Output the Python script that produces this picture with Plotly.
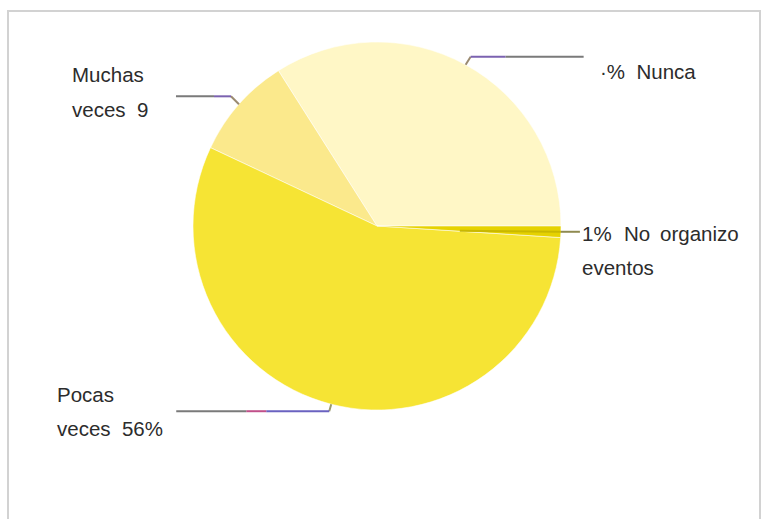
import math
import plotly.graph_objects as go

# ---- data ----
labels = ["Nunca", "Muchas veces", "Pocas veces", "No organizo eventos"]
values = [34, 9, 56, 1]
colors = ["#FFF7C6", "#FBE98C", "#F6E434", "#E6D200"]

# label text lines (as shown in the reference)
label_lines = {
    "Nunca": ["·%  Nunca"],
    "Muchas veces": ["Muchas", "veces  9"],
    "Pocas veces": ["Pocas", "veces  56%"],
}

# ---- layout constants (pixels) ----
W, H = 763, 519
CX, CY, R = 377, 226, 184


def px(x):
    return x / W


def py(y):
    return 1 - y / H


total = sum(values)
# plotly anchors the end of the first slice at `rotation` when counterclockwise;
# we want the first slice to begin at 3 o'clock
rotation = 90 - values[0] / total * 360

fig = go.Figure(
    go.Pie(
        labels=labels,
        values=values,
        sort=False,
        direction="counterclockwise",
        rotation=rotation,
        marker=dict(colors=colors, line=dict(color="rgba(255,255,255,0.55)", width=1)),
        textinfo="none",
        hoverinfo="label+percent",
        showlegend=False,
        domain=dict(x=[px(CX - R), px(CX + R)], y=[py(CY + R), py(CY - R)]),
    )
)

# mid-angle anchors on the pie edge, computed from the data
anchors = {}
cum = 0
for lab, v in zip(labels, values):
    mid = (cum + v / 2) / total * 2 * math.pi
    anchors[lab] = (CX + R * math.cos(mid), CY - R * math.sin(mid))
    cum += v

shapes = []


def seg(x0, y0, x1, y1, color, width=2):
    shapes.append(dict(type="line", xref="paper", yref="paper",
                       x0=px(x0), y0=py(y0), x1=px(x1), y1=py(y1),
                       line=dict(color=color, width=width)))


GRAY = "#7a7a7a"
PURP = "#7b62b0"

# Nunca leader
ax, ay = anchors["Nunca"]
seg(ax, ay, ax + 5, ay - 8, "#9a8a70")
seg(ax + 5, ay - 8, ax + 40, ay - 8, PURP)
seg(ax + 40, ay - 8, ax + 118, ay - 8, GRAY)

# Muchas veces leader
ax, ay = anchors["Muchas veces"]
seg(ax, ay, ax - 8, ay - 8, "#9a8a70")
seg(ax - 8, ay - 8, ax - 25, ay - 8, PURP)
seg(ax - 25, ay - 8, ax - 63, ay - 8, GRAY)

# Pocas veces leader
ax, ay = anchors["Pocas veces"]
seg(ax, ay, ax - 2, ay + 7, "#9a9a70")
seg(ax - 2, ay + 7, ax - 65, ay + 7, "#6a62c0")
seg(ax - 65, ay + 7, ax - 85, ay + 7, "#c0508a")
seg(ax - 85, ay + 7, ax - 155, ay + 7, GRAY)

# No organizo leader
ax, ay = anchors["No organizo eventos"]
seg(CX + 0.45 * R, ay - 1, ax, ay, "#C9B800", 2)
seg(ax, ay, ax + 19, ay, "#8f8a50", 2)

# frame around the chart
shapes.append(dict(type="rect", xref="paper", yref="paper",
                   x0=px(8), y0=py(560), x1=px(760), y1=py(11),
                   line=dict(color="#d2d2d2", width=2), layer="below"))

FONT = dict(family="Liberation Sans, Arial, sans-serif", size=20.5, color="#2c2c2c")
ann = []


def text(x, y, s):
    ann.append(dict(x=px(x), y=py(y), xref="paper", yref="paper", text=s,
                    showarrow=False, xanchor="left", yanchor="middle", font=FONT))


text(598, 71, label_lines["Nunca"][0])
text(70, 75, label_lines["Muchas veces"][0])
text(70, 109, label_lines["Muchas veces"][1])
text(55, 394, label_lines["Pocas veces"][0])
text(55, 428, label_lines["Pocas veces"][1])
text(580, 233, "1%")
text(622, 233, "No")
text(658, 233, "organizo")
text(580, 267, "eventos")

fig.update_layout(
    width=W, height=H,
    margin=dict(l=0, r=0, t=0, b=0),
    paper_bgcolor="white", plot_bgcolor="white",
    shapes=shapes, annotations=ann,
)

fig.write_html("out.html", config={"displayModeBar": False},
               post_script="document.body.style.margin='0';")
